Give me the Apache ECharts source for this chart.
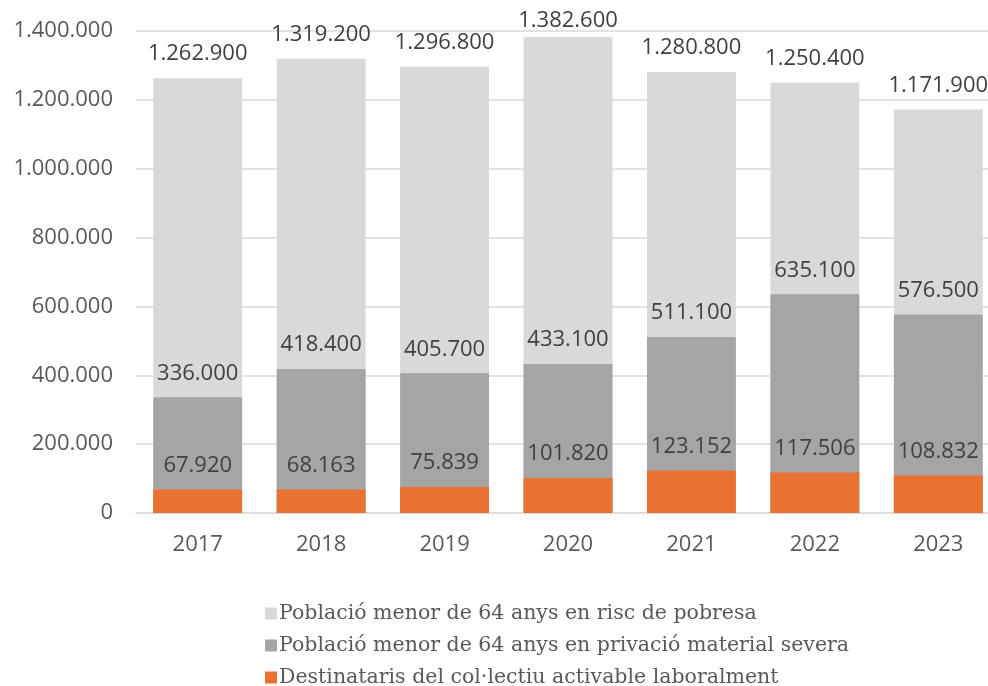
<!DOCTYPE html>
<html>
<head>
<meta charset="utf-8">
<script src="https://cdn.jsdelivr.net/npm/echarts@6/dist/echarts.min.js"></script>
<style>html,body{margin:0;padding:0;background:#fff}#c{width:988px;height:686px}</style>
</head>
<body>
<div id="c"></div>
<script>
const years = ['2017','2018','2019','2020','2021','2022','2023'];
const riscPobresa = [1262900, 1319200, 1296800, 1382600, 1280800, 1250400, 1171900];
const privacioMaterial = [336000, 418400, 405700, 433100, 511100, 635100, 576500];
const destinataris = [67920, 68163, 75839, 101820, 123152, 117506, 108832];
const seriesNames = [
  'Població menor de 64 anys en risc de pobresa',
  'Població menor de 64 anys en privació material severa',
  'Destinataris del col·lectiu activable laboralment'
];
const yTicks = [0, 200000, 400000, 600000, 800000, 1000000, 1200000, 1400000];
const yMax = yTicks[yTicks.length-1];

function fmt(v){ return String(v).replace(/\B(?=(\d{3})+(?!\d))/g, '.'); }

const numFont = 'Open Sans';
const chart = echarts.init(document.getElementById('c'), null, {renderer:'canvas'});
const labelCfg = {
  show: true, position: 'top', distance: 13,
  fontFamily: numFont, fontSize: 22, color: '#404040',
  formatter: p => fmt(p.value)
};
function bar(name, data, color){
  // labels that would leave the plot area are pulled closer, as the original does
  const items = data.map(v => v > yMax * 0.97 ? {value: v, label: {distance: 5}} : v);
  return {
    name, type: 'bar', data: items, barWidth: '72%', barGap: '-100%',
    itemStyle: {color}, label: labelCfg, animation: false
  };
}
chart.setOption({
  animation: false,
  graphic: [{
    type: 'text', left: 107, top: -24,
    style: {text: '(en persones)', font: '22px "Liberation Sans"', fill: '#000'}
  }],
  grid: {left: 136, right: -12, top: 31, bottom: 173, outerBoundsMode: 'none', containLabel: false},
  legend: {
    orient: 'vertical', left: 260, top: 598, height: 120,
    itemWidth: 12, itemHeight: 12, itemGap: 11, icon: 'rect',
    textStyle: {fontFamily: 'DejaVu Serif', fontSize: 20.5, color: '#595959', padding: [0,0,0,-3]},
    data: seriesNames
  },
  xAxis: {
    type: 'category', data: years,
    axisLine: {lineStyle: {color: '#D9D9D9', width: 1.5}},
    axisTick: {show: false},
    axisLabel: {fontFamily: numFont, fontSize: 22, color: '#595959', margin: 21}
  },
  yAxis: {
    type: 'value', min: yTicks[0], max: yMax, interval: 200000,
    axisLine: {show: false}, axisTick: {show: false},
    splitLine: {lineStyle: {color: '#D9D9D9', width: 1.5}},
    axisLabel: {fontFamily: numFont, fontSize: 22, color: '#595959', margin: 23, formatter: v => fmt(v)}
  },
  series: [
    bar(seriesNames[0], riscPobresa, '#D9D9D9'),
    bar(seriesNames[1], privacioMaterial, '#A5A5A5'),
    bar(seriesNames[2], destinataris, '#E97132')
  ]
});
</script>
</body>
</html>
